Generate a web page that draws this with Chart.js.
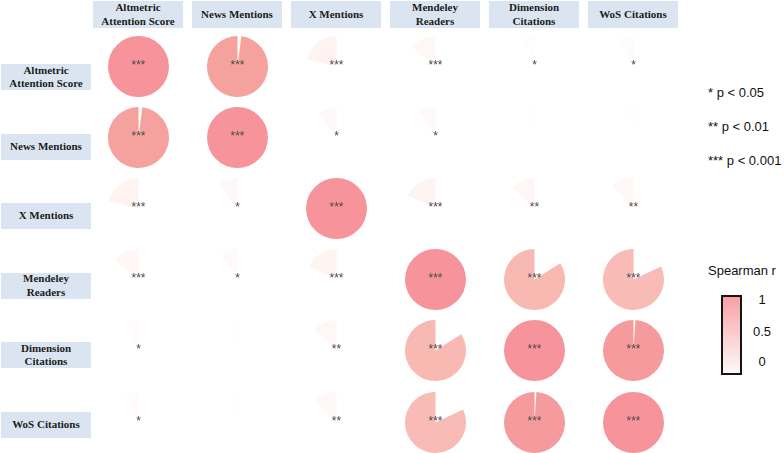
<!DOCTYPE html>
<html>
<head>
<meta charset="utf-8">
<script src="https://cdn.jsdelivr.net/npm/chart.js@4.4.1/dist/chart.umd.min.js"></script>
<style>
    body { margin: 0; width: 784px; height: 453px; background: #fff; position: relative; overflow: hidden;
           font-family: "Liberation Sans", Arial, sans-serif; }
    .hdr { position: absolute; background: #dbe5f1; font-family: "Liberation Serif", "Times New Roman", serif;
           font-weight: bold; font-size: 11px; line-height: 13.5px; color: #1c1c1c;
           display: flex; align-items: center; justify-content: center; text-align: center; }
    .col { top: 1px; width: 90px; height: 27px; }
    .row { left: 1px; width: 90px; height: 26px; }
    #grid { position: absolute; left: 89px; top: 31px; display: grid;
            grid-template-columns: repeat(6, 99px); grid-template-rows: repeat(6, 71.1px); }
    .cell { display: flex; align-items: center; justify-content: center; }
    .pie { width: 61px; height: 61px; position: relative; }
    .note { position: absolute; left: 708px; font-size: 13px; color: #111; line-height: 14px; }
    #bar { position: absolute; left: 721px; top: 295px; width: 17px; height: 76px; border: 2px solid #151515;
           background: linear-gradient(to bottom, #f8a0a6, #fbd3d3 55%, #fdf8f8); }
    .tick { position: absolute; width: 30px; text-align: center; left: 747px; font-size: 13px; color: #111; line-height: 14px; }
</style>
</head>
<body>
<div id="headers"></div>
<div id="grid"></div>

<div class="note" style="top:86px">* p &lt; 0.05</div>
<div class="note" style="top:120px">** p &lt; 0.01</div>
<div class="note" style="top:154px">*** p &lt; 0.001</div>

<div class="note" style="top:264px">Spearman r</div>
<div id="bar"></div>
<div class="tick" style="top:293px">1</div>
<div class="tick" style="top:325px">0.5</div>
<div class="tick" style="top:355px">0</div>

<script>
// metrics (rows and columns are the same)
const metrics = ['Altmetric Attention Score', 'News Mentions', 'X Mentions',
                 'Mendeley Readers', 'Dimension Citations', 'WoS Citations'];
const colLabels = [['Altmetric', 'Attention Score'], ['News Mentions'], ['X Mentions'],
                   ['Mendeley', 'Readers'], ['Dimension', 'Citations'], ['WoS Citations']];

// Spearman r, one row per metric
const rAltmetric = [1.00, 0.98, 0.21, 0.14, 0.06, 0.07];
const rNews      = [0.98, 1.00, 0.10, 0.09, 0.02, 0.02];
const rX         = [0.21, 0.10, 1.00, 0.18, 0.13, 0.12];
const rMendeley  = [0.14, 0.09, 0.18, 1.00, 0.84, 0.82];
const rDimension = [0.06, 0.02, 0.13, 0.84, 1.00, 0.99];
const rWoS       = [0.07, 0.02, 0.12, 0.82, 0.99, 1.00];

// significance stars
const sigAltmetric = ['***', '***', '***', '***', '*', '*'];
const sigNews      = ['***', '***', '*', '*', '', ''];
const sigX         = ['***', '*', '***', '***', '**', '**'];
const sigMendeley  = ['***', '*', '***', '***', '***', '***'];
const sigDimension = ['*', '', '**', '***', '***', '***'];
const sigWoS       = ['*', '', '**', '***', '***', '***'];

const rRows = [rAltmetric, rNews, rX, rMendeley, rDimension, rWoS];
const sigRows = [sigAltmetric, sigNews, sigX, sigMendeley, sigDimension, sigWoS];

// white -> salmon -> pink
const stops = [
    [0.00, 255, 255, 255],
    [0.50, 252, 226, 221],
    [0.84, 248, 185, 178],
    [0.98, 245, 162, 158],
    [1.00, 247, 147, 155]
];
function colorFor(r) {
    for (let i = 1; i < stops.length; i++) {
        if (r <= stops[i][0]) {
            const a = stops[i - 1], b = stops[i];
            const t = (r - a[0]) / (b[0] - a[0]);
            const c = [1, 2, 3].map(k => Math.round(a[k] + (b[k] - a[k]) * t));
            return `rgb(${c.join(',')})`;
        }
    }
    return 'rgb(247,147,155)';
}

// header boxes
const headers = document.getElementById('headers');
colLabels.forEach((lines, i) => {
    const d = document.createElement('div');
    d.className = 'hdr col';
    d.style.left = (93 + 99 * i) + 'px';
    d.innerHTML = lines.join('<br>');
    headers.appendChild(d);
});
colLabels.forEach((lines, j) => {
    const d = document.createElement('div');
    d.className = 'hdr row';
    d.style.top = (64 + 69.6 * j) + 'px';
    d.innerHTML = lines.join('<br>');
    headers.appendChild(d);
});

const starPlugin = {
    id: 'stars',
    afterDraw(chart, args, opts) {
        if (!opts.text) return;
        const { ctx, chartArea } = chart;
        ctx.save();
        ctx.font = '12px "Liberation Sans", Arial, sans-serif';
        ctx.fillStyle = '#4a4a4a';
        ctx.textAlign = 'center';
        ctx.textBaseline = 'middle';
        ctx.fillText(opts.text, (chartArea.left + chartArea.right) / 2, (chartArea.top + chartArea.bottom) / 2 - 1);
        ctx.restore();
    }
};

const grid = document.getElementById('grid');
rRows.forEach((row, j) => {
    row.forEach((r, i) => {
        const cell = document.createElement('div');
        cell.className = 'cell';
        const box = document.createElement('div');
        box.className = 'pie';
        const canvas = document.createElement('canvas');
        box.appendChild(canvas);
        cell.appendChild(box);
        grid.appendChild(cell);

        // slice 0 is empty so the coloured slice ends at 12 o'clock
        new Chart(canvas, {
            type: 'pie',
            data: {
                labels: ['', metrics[i]],
                datasets: [{
                    data: [1 - r, r],
                    backgroundColor: ['rgba(0,0,0,0)', colorFor(r)],
                    borderWidth: 0
                }]
            },
            options: {
                responsive: true,
                maintainAspectRatio: false,
                animation: false,
                events: [],
                layout: { padding: 0 },
                plugins: {
                    legend: { display: false },
                    tooltip: { enabled: false },
                    stars: { text: sigRows[j][i] }
                }
            },
            plugins: [starPlugin]
        });
    });
});
</script>
</body>
</html>
